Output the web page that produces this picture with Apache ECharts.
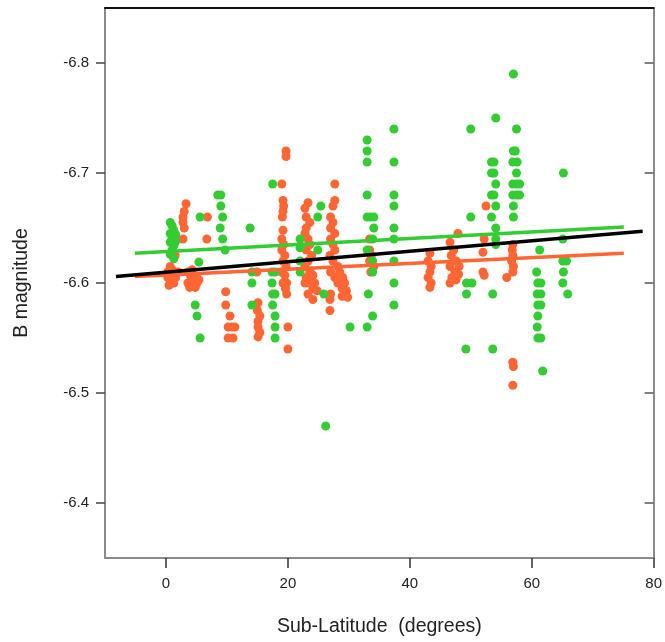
<!DOCTYPE html>
<html>
<head>
<meta charset="utf-8">
<script src="https://cdn.jsdelivr.net/npm/echarts@6/dist/echarts.min.js"></script>
<style>
  html, body { margin: 0; padding: 0; background: #ffffff; }
  #chart { width: 665px; height: 642px; }
</style>
</head>
<body>
<div id="chart"></div>
<script>
// B magnitude against sub-latitude, two data sets with their linear fits
const xTicks = [0, 20, 40, 60, 80];
const yTicks = [-6.8, -6.7, -6.6, -6.5, -6.4];

// green data set: [sub-latitude, B magnitude]
const greenPoints = [
  [0.7, -6.655], [1.0, -6.652], [1.3, -6.648], [0.7, -6.645], [1.0, -6.641], [1.6, -6.644],
  [0.7, -6.637], [1.3, -6.634], [1.0, -6.630], [0.7, -6.626], [1.3, -6.622], [1.6, -6.638],
  [5.6, -6.660], [5.4, -6.619], [4.8, -6.580], [5.1, -6.570], [5.6, -6.550],
  [8.5, -6.680], [9.0, -6.680], [9.0, -6.670], [9.3, -6.660], [8.9, -6.650], [9.3, -6.640], [9.7, -6.630],
  [13.8, -6.650], [14.1, -6.610], [14.1, -6.600], [14.1, -6.580],
  [17.5, -6.690], [17.4, -6.610], [17.9, -6.610], [17.4, -6.600], [17.5, -6.590], [17.9, -6.590],
  [17.5, -6.580], [17.9, -6.570], [17.9, -6.560], [17.9, -6.550],
  [22.0, -6.640], [22.0, -6.632], [22.0, -6.620], [22.0, -6.610],
  [25.4, -6.670], [24.9, -6.660], [24.9, -6.630], [25.9, -6.590], [26.2, -6.470],
  [30.2, -6.560],
  [33.0, -6.730], [33.0, -6.720], [33.0, -6.710], [33.0, -6.680], [33.0, -6.660], [33.5, -6.660],
  [34.1, -6.660], [34.1, -6.650], [33.9, -6.640], [33.0, -6.630], [33.9, -6.620], [33.9, -6.610],
  [33.2, -6.590], [33.9, -6.570], [33.0, -6.560],
  [37.4, -6.740], [37.4, -6.710], [37.4, -6.680], [37.4, -6.670], [37.4, -6.650], [37.4, -6.640],
  [37.4, -6.620], [37.4, -6.600], [37.4, -6.580],
  [50.0, -6.740], [50.0, -6.660], [49.3, -6.600], [50.2, -6.600], [49.3, -6.590], [49.2, -6.540],
  [54.1, -6.750], [53.4, -6.710], [53.8, -6.710], [53.4, -6.700], [53.8, -6.700], [54.1, -6.690],
  [53.4, -6.680], [53.8, -6.680], [54.1, -6.670], [53.4, -6.660], [54.1, -6.650], [54.1, -6.640],
  [54.1, -6.635], [53.6, -6.590], [53.6, -6.540],
  [57.0, -6.790], [57.5, -6.740], [57.0, -6.720], [57.3, -6.720], [56.9, -6.710], [57.6, -6.710],
  [57.5, -6.700], [56.9, -6.690], [57.5, -6.690], [58.0, -6.690], [56.9, -6.680], [57.5, -6.680],
  [58.0, -6.680], [57.0, -6.670], [57.0, -6.660],
  [61.3, -6.630], [60.8, -6.610], [61.0, -6.600], [61.5, -6.600], [60.9, -6.590], [61.5, -6.590],
  [61.0, -6.580], [61.5, -6.580], [61.0, -6.570], [60.9, -6.560], [61.0, -6.550], [61.5, -6.550],
  [61.8, -6.520],
  [65.2, -6.700], [65.1, -6.640], [65.1, -6.620], [65.7, -6.620], [65.2, -6.610], [65.1, -6.600],
  [65.9, -6.590]
];

// orange data set: [sub-latitude, B magnitude]
const orangePoints = [
  [0.3, -6.610], [0.7, -6.615], [1.0, -6.612], [1.3, -6.608], [0.3, -6.605], [0.7, -6.603],
  [1.0, -6.600], [1.6, -6.605], [2.0, -6.610], [1.3, -6.600], [0.5, -6.598], [1.5, -6.625],
  [3.3, -6.672], [3.0, -6.665], [2.8, -6.660], [2.8, -6.655], [3.0, -6.650], [2.8, -6.640],
  [3.6, -6.610], [4.0, -6.607], [4.3, -6.612], [4.8, -6.605], [3.6, -6.600], [4.3, -6.600],
  [5.1, -6.600], [3.9, -6.596], [4.8, -6.596], [5.4, -6.603],
  [6.8, -6.660], [6.7, -6.640],
  [9.8, -6.592], [9.8, -6.580], [10.5, -6.570], [10.2, -6.560], [10.8, -6.560], [10.2, -6.550],
  [11.0, -6.550], [11.3, -6.560],
  [14.9, -6.610], [15.1, -6.582], [15.0, -6.575], [15.4, -6.570], [15.1, -6.565], [15.1, -6.560],
  [15.4, -6.555], [15.1, -6.551],
  [19.7, -6.720], [19.7, -6.715], [19.0, -6.690], [19.2, -6.675], [19.3, -6.670], [19.2, -6.665],
  [19.1, -6.660], [19.2, -6.648], [19.0, -6.640], [19.3, -6.635], [19.0, -6.630], [19.5, -6.625],
  [19.2, -6.620], [19.7, -6.615], [19.0, -6.610], [19.5, -6.607], [19.8, -6.600], [19.2, -6.600],
  [19.6, -6.595], [19.8, -6.590], [20.0, -6.560], [20.0, -6.540],
  [23.3, -6.673], [22.8, -6.668], [23.0, -6.660], [23.6, -6.655], [23.0, -6.650], [22.8, -6.645],
  [23.3, -6.640], [23.6, -6.635], [23.0, -6.630], [23.9, -6.625], [23.3, -6.620], [22.8, -6.615],
  [23.6, -6.610], [24.1, -6.607], [23.0, -6.605], [23.6, -6.600], [22.8, -6.600], [24.1, -6.595],
  [24.4, -6.600], [24.8, -6.593], [23.3, -6.590], [24.1, -6.585],
  [27.7, -6.690], [27.7, -6.675], [27.4, -6.670], [27.0, -6.660], [27.4, -6.655], [27.0, -6.650],
  [27.7, -6.645], [27.0, -6.640], [27.4, -6.635], [27.7, -6.630], [26.9, -6.625], [27.4, -6.620],
  [28.2, -6.615], [27.0, -6.610], [27.7, -6.605], [28.2, -6.600], [26.9, -6.585], [26.9, -6.575],
  [27.0, -6.590],
  [28.5, -6.610], [29.0, -6.605], [29.3, -6.600], [28.9, -6.595], [29.6, -6.593], [29.3, -6.589],
  [29.8, -6.587], [28.9, -6.588],
  [33.4, -6.640], [33.4, -6.630], [33.7, -6.625], [33.4, -6.620], [34.1, -6.615], [33.6, -6.610],
  [43.3, -6.627], [43.0, -6.620], [43.5, -6.615], [43.3, -6.610], [43.0, -6.605], [43.5, -6.600],
  [43.3, -6.596],
  [47.9, -6.645], [46.6, -6.637], [47.2, -6.630], [46.8, -6.625], [47.6, -6.620], [46.6, -6.615],
  [47.4, -6.610], [48.1, -6.615], [46.9, -6.605], [47.6, -6.603], [46.6, -6.600], [48.0, -6.608],
  [52.5, -6.670], [52.2, -6.640], [52.0, -6.628], [52.0, -6.610], [52.2, -6.607],
  [55.9, -6.605], [56.9, -6.635], [56.8, -6.630], [56.9, -6.625], [56.7, -6.620], [57.0, -6.615],
  [56.9, -6.610], [56.9, -6.528], [57.0, -6.524], [56.9, -6.507]
];

// fitted lines: end points of each fit
const fitAll = [[-8.2, -6.606], [78.2, -6.647]];
const fitGreen = [[-5.1, -6.627], [75.1, -6.651]];
const fitOrange = [[-5.1, -6.606], [75.1, -6.627]];

const GREEN = '#33cc33';
const ORANGE = '#ff6633';
const AXIS_GREY = '#8a8a8a';
const TEXT = '#222222';
const FONT = 'Liberation Sans, Arial, sans-serif';

const chart = echarts.init(document.getElementById('chart'), null, { renderer: 'canvas' });

chart.setOption({
  backgroundColor: '#ffffff',
  animation: false,
  grid: { left: 105, right: 11, top: 8, bottom: 83, containLabel: false },
  xAxis: [
    {
      type: 'value', min: -10, max: 80, position: 'bottom',
      name: 'Sub-Latitude  (degrees)', nameLocation: 'middle', nameGap: 59,
      nameTextStyle: { fontFamily: FONT, fontSize: 19.5, color: TEXT },
      axisLine: { show: true, onZero: false, lineStyle: { color: AXIS_GREY, width: 2 } },
      axisTick: { show: true, inside: false, length: 10, customValues: xTicks, lineStyle: { color: '#333', width: 1.5 } },
      axisLabel: { customValues: xTicks, margin: 18, fontFamily: FONT, fontSize: 15, color: TEXT },
      splitLine: { show: false }
    },
    {
      type: 'value', min: -10, max: 80, position: 'top',
      axisLine: { show: true, onZero: false, lineStyle: { color: '#111', width: 2 } },
      axisTick: { show: false }, axisLabel: { show: false }, splitLine: { show: false }
    }
  ],
  yAxis: [
    {
      type: 'value', min: -6.85, max: -6.35, inverse: true, position: 'left',
      name: 'B magnitude', nameLocation: 'middle', nameGap: 73, nameRotate: 90,
      nameTextStyle: { fontFamily: FONT, fontSize: 19.5, color: TEXT },
      axisLine: { show: true, onZero: false, lineStyle: { color: AXIS_GREY, width: 2 } },
      axisTick: { show: true, inside: false, length: 9, customValues: yTicks, lineStyle: { color: '#444', width: 1.5 } },
      axisLabel: {
        customValues: yTicks, margin: 16, fontFamily: FONT, fontSize: 15, color: TEXT,
        formatter: v => v.toFixed(1)
      },
      splitLine: { show: false }
    },
    {
      type: 'value', min: -6.85, max: -6.35, inverse: true, position: 'right',
      axisLine: { show: true, onZero: false, lineStyle: { color: AXIS_GREY, width: 2 } },
      axisTick: { show: true, inside: true, length: 9, customValues: yTicks, lineStyle: { color: '#555', width: 1.5 } },
      axisLabel: { show: false }, splitLine: { show: false }
    }
  ],
  series: [
    {
      type: 'scatter', name: 'orange', data: orangePoints, symbol: 'circle', symbolSize: 9,
      itemStyle: { color: ORANGE, opacity: 1 }, z: 2
    },
    {
      type: 'scatter', name: 'green', data: greenPoints, symbol: 'circle', symbolSize: 9,
      itemStyle: { color: GREEN, opacity: 1 }, z: 3
    },
    {
      type: 'line', name: 'fit orange', data: fitOrange, showSymbol: false, symbol: 'none',
      lineStyle: { color: ORANGE, width: 3.5 }, z: 4
    },
    {
      type: 'line', name: 'fit green', data: fitGreen, showSymbol: false, symbol: 'none',
      lineStyle: { color: GREEN, width: 3.5 }, z: 4
    },
    {
      type: 'line', name: 'fit all', data: fitAll, showSymbol: false, symbol: 'none',
      lineStyle: { color: '#000000', width: 3.5 }, z: 5
    }
  ]
});
</script>
</body>
</html>
